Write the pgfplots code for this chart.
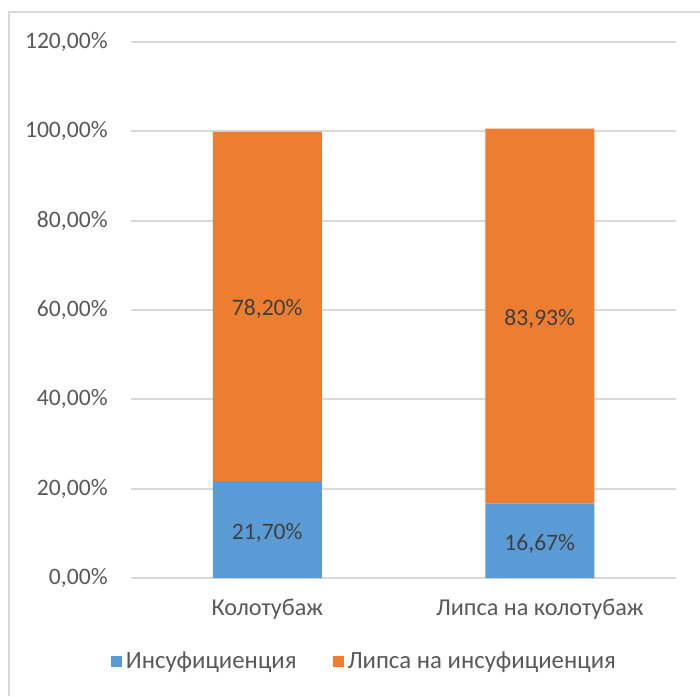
\documentclass[border=0pt]{standalone}
\usepackage{pgfplots}
\usepackage{pgfplotstable}
\pgfplotsset{compat=1.18}
\usepackage{fontspec}
\setmainfont{Carlito}

\definecolor{barblue}{HTML}{5B9BD5}
\definecolor{barorange}{HTML}{ED7D31}
\definecolor{gridgray}{HTML}{D9D9D9}
\definecolor{ticktext}{HTML}{595959}
\definecolor{labeltext}{HTML}{404040}

% share of each group, in percent
\pgfplotstableread{
x v
0 21.70
1 16.67
}\insuf
\pgfplotstableread{
x v
0 78.20
1 83.93
}\noinsuf

\begin{document}
\begin{tikzpicture}[font=\fontsize{11.8}{14}\selectfont]
\useasboundingbox (0,0) rectangle (350pt,348pt);
% chart frame
\draw[gridgray, line width=1pt] (4.25pt,0) -- (4.25pt,341.75pt) -- (351pt,341.75pt);
\begin{axis}[
  at={(65.5pt,59pt)}, anchor=south west,
  scale only axis, width=272.5pt, height=268pt,
  ybar stacked, bar width=0.4,
  xmin=-0.5, xmax=1.5, ymin=0, ymax=120,
  enlargelimits=false,
  axis line style={draw=none},
  tick style={draw=none},
  major tick length=0pt,
  ymajorgrids,
  major grid style={gridgray, line width=0.9pt},
  ytick={0,20,...,120},
  /pgf/number format/assume math mode=true,
  yticklabel={\pgfmathprintnumber[fixed, fixed zerofill, precision=2, use comma]{\tick}\%},
  yticklabel style={anchor=east, inner sep=0pt, xshift=-11.5pt, text=ticktext},
  xtick={0,1},
  xticklabels={Колотубаж, Липса на колотубаж},
  xticklabel style={anchor=base, inner sep=0pt, yshift=-18.8pt, text=ticktext,
    font=\fontsize{12.1}{14}\selectfont},
  point meta=explicit,
  nodes near coords={\pgfmathprintnumber[fixed, fixed zerofill, precision=2, use comma]{\pgfplotspointmeta}\%},
  % labels sit in the middle of each segment
  every node near coord/.append style={anchor=center, yshift=-1.5pt, text=labeltext},
  legend style={at={(0.43,-0.1567)}, anchor=center, draw=none, fill=none,
    legend columns=2, text=ticktext, font=\fontsize{12.4}{14}\selectfont,
    /tikz/every even column/.append style={column sep=16pt}},
]
\addplot[fill=barblue, draw=none,
  legend image code/.code={\fill[barblue] (0pt,-2.75pt) rectangle (5.5pt,2.75pt);}]
  table[x=x, y=v, meta=v] {\insuf};
\addlegendentry{Инсуфициенция}
\addplot[fill=barorange, draw=none,
  legend image code/.code={\fill[barorange] (0pt,-2.75pt) rectangle (5.5pt,2.75pt);}]
  table[x=x, y=v, meta=v] {\noinsuf};
\addlegendentry{Липса на инсуфициенция}
\end{axis}
\end{tikzpicture}
\end{document}
